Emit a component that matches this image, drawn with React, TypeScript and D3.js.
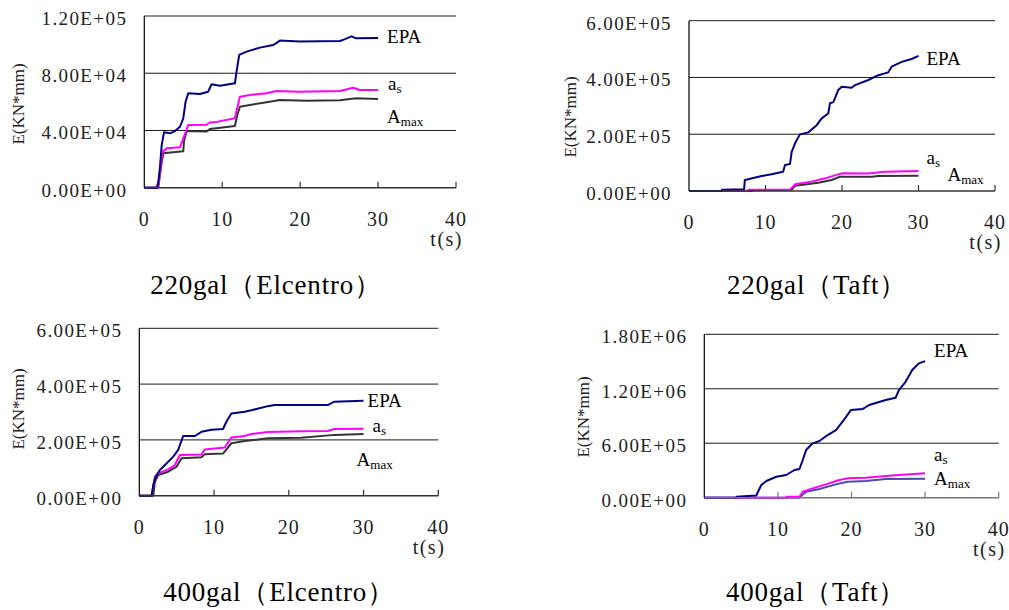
import React from 'react';
import * as d3 from 'd3';

type Pt = [number, number];

// time ticks shared by all four panels
const timeTicks = [0, 10, 20, 30, 40];

// y tick labels
const ticks220El = ['0.00E+00', '4.00E+04', '8.00E+04', '1.20E+05'];
const ticks220Taft = ['0.00E+00', '2.00E+05', '4.00E+05', '6.00E+05'];
const ticks400El = ['0.00E+00', '2.00E+05', '4.00E+05', '6.00E+05'];
const ticks400Taft = ['0.00E+00', '6.00E+05', '1.20E+06', '1.80E+06'];

const titles = ['220gal（Elcentro）', '220gal（Taft）', '400gal（Elcentro）', '400gal（Taft）'];

// 220gal Elcentro
const epa220El: Pt[] = [
  [0, 0], [1.6, 0], [1.8, 4200], [2.0, 13600], [2.23, 29800], [2.53, 38700], [3.3, 38000],
  [3.94, 39600], [4.58, 42600], [5.0, 48500], [5.3, 60100], [5.64, 66000], [7.14, 65500],
  [8.2, 67100], [8.64, 72300], [9.7, 71300], [11.63, 73000], [11.84, 81100], [12.18, 92800],
  [13.13, 95100], [14.83, 97900], [16.54, 99700], [17.4, 102800], [19.96, 102100],
  [25.1, 102500], [25.6, 103500], [26.6, 105800], [27.2, 104400], [30, 104600],
];
const as220El: Pt[] = [
  [0, 0], [1.75, 0], [2.01, 10000], [2.35, 25200], [2.87, 27500], [4.58, 28300], [5.0, 34500],
  [5.64, 43800], [7.99, 44000], [8.42, 45600], [9.28, 46000], [11.63, 48500], [11.84, 53900],
  [12.27, 63600], [13.55, 64800], [15.69, 66000], [16.97, 67600], [19.96, 67100],
  [25.1, 67600], [26.8, 69900], [27.66, 68300], [30, 68300],
];
const amax220El: Pt[] = [
  [0, 0], [1.8, 0], [2.1, 13000], [2.44, 24100], [5.0, 25500], [5.09, 32200], [5.43, 39600],
  [7.99, 39200], [8.42, 41000], [11.63, 43100], [11.93, 50800], [12.27, 56600], [13.55, 57800],
  [15.69, 59700], [17.4, 61300], [20.82, 60700], [25.1, 61100], [27.2, 62500], [30, 62000],
];

// 220gal Taft
const epa220Taft: Pt[] = [
  [0, 0], [4.27, 0], [4.3, 4000], [7.2, 6000], [7.3, 38700], [9.5, 52800], [10.8, 58700],
  [12.3, 68000], [12.55, 91500], [13.2, 95000], [13.42, 138000], [13.86, 168000],
  [14.5, 199500], [15.6, 206600], [16.69, 232000], [17.34, 256000], [18.2, 273000],
  [18.43, 309000], [18.87, 313000], [19.52, 356000], [19.96, 367000], [21.26, 364000],
  [21.7, 373000], [23.44, 391000], [24.75, 408000], [26.05, 418000], [26.49, 438000],
  [27.8, 455000], [29.1, 465000], [30, 476000],
];
const as220Taft: Pt[] = [
  [0, 0], [7.7, 0], [7.8, 4000], [13.2, 5000], [13.86, 23500], [16.04, 33000], [17.78, 44600],
  [19.5, 58700], [19.96, 62200], [23.44, 62000], [25.6, 68000], [30, 70400],
];
const amax220Taft: Pt[] = [
  [0, 0], [8.2, 0], [8.3, 3000], [13.4, 4000], [13.86, 18800], [16.9, 29300], [18.65, 38700],
  [19.74, 50400], [23.9, 50400], [24.75, 52800], [30, 54000],
];

// 400gal Elcentro
const epa400El: Pt[] = [
  [0, 0], [1.65, 0], [1.87, 38000], [2.18, 68000], [2.76, 92000], [3.43, 110000],
  [4.54, 140000], [5.2, 164000], [5.87, 214000], [7.43, 214000], [8.32, 229000],
  [9.65, 236000], [11.2, 239000], [11.65, 265000], [12.31, 295000], [14.09, 301000],
  [14.98, 306000], [17.2, 321000], [18.09, 325000], [25.2, 325000], [26.09, 337000],
  [30, 340000],
];
const as400El: Pt[] = [
  [0, 0], [1.65, 0], [2.09, 68000], [2.54, 80000], [3.87, 94600], [4.76, 110000],
  [5.43, 146000], [8.32, 148000], [8.76, 166000], [11.43, 173000], [12.32, 209000],
  [14.09, 214000], [14.98, 221000], [17.2, 228000], [21.65, 231000], [25.2, 232000],
  [26.09, 239000], [30, 240000],
];
const amax400El: Pt[] = [
  [0, 0], [1.87, 0], [2.09, 50000], [2.54, 74000], [3.87, 86000], [4.98, 104000],
  [5.65, 134000], [8.32, 138000], [8.76, 149000], [11.2, 151000], [12.32, 188000],
  [14.09, 196000], [17.2, 206000], [21.65, 208000], [26.09, 218000], [30, 221000],
];

// 400gal Taft
const epa400Taft: Pt[] = [
  [0, 0], [4.37, 0], [4.4, 11000], [5.95, 20000], [7.08, 25000], [7.3, 66000], [7.75, 140000],
  [8.43, 184000], [9.78, 231000], [11.13, 250000], [12.26, 305000], [12.93, 316000],
  [13.38, 415000], [13.83, 525000], [14.73, 599000], [15.64, 624000], [16.76, 690000],
  [17.89, 745000], [18.79, 837000], [19.91, 965000], [21.49, 976000], [22.4, 1021000],
  [24.65, 1076000], [25.99, 1101000], [26.44, 1186000], [27.35, 1277000], [28.25, 1406000],
  [29.15, 1480000], [30, 1505000],
];
const as400Taft: Pt[] = [
  [0, 0], [11.13, 0], [11.2, 11000], [12.93, 11000], [13.38, 66000], [14.73, 103000],
  [16.54, 147000], [18.34, 195000], [19.47, 213000], [21.94, 220000], [24.65, 239000],
  [26.44, 250000], [30, 268000],
];
const amax400Taft: Pt[] = [
  [0, 0], [12.93, 0], [13.0, 8000], [13.83, 66000], [15.64, 96000], [17.89, 147000],
  [19.47, 176000], [21.94, 184000], [24.65, 206000], [30, 208000],
];

const SERIF = '"Liberation Serif", "Times New Roman", serif';

interface PanelCfg {
  box: { left: number; top: number; right: number; bottom: number };
  yMax: number;
  yLabels: string[];
  series: { data: Pt[]; color: string }[];
  legend: { dx: number; dy: number }[]; // EPA, as, Amax, relative to line end
  title: string;
  titlePos: [number, number];
  yTitlePos: [number, number];
  axisColor: string;
}

const panels: PanelCfg[] = [
  {
    box: { left: 144.3, top: 16, right: 456, bottom: 187.7 },
    yMax: 120000, yLabels: ticks220El,
    series: [
      { data: epa220El, color: '#000080' },
      { data: as220El, color: '#ff00ff' },
      { data: amax220El, color: '#333333' },
    ],
    legend: [{ dx: 9, dy: 5 }, { dx: 10, dy: 0 }, { dx: 9, dy: 24 }],
    title: titles[0], titlePos: [266, 294], yTitlePos: [18, 104], axisColor: '#333',
  },
  {
    box: { left: 689, top: 20.7, right: 995, bottom: 191 },
    yMax: 600000, yLabels: ticks220Taft,
    series: [
      { data: epa220Taft, color: '#000080' },
      { data: as220Taft, color: '#ff00ff' },
      { data: amax220Taft, color: '#333333' },
    ],
    legend: [{ dx: 8, dy: 9 }, { dx: 8, dy: -7 }, { dx: 29, dy: 5 }],
    title: titles[1], titlePos: [817, 294], yTitlePos: [570, 117], axisColor: '#333',
  },
  {
    box: { left: 139.3, top: 328.3, right: 438.3, bottom: 495.7 },
    yMax: 600000, yLabels: ticks400El,
    series: [
      { data: epa400El, color: '#000080' },
      { data: as400El, color: '#ff00ff' },
      { data: amax400El, color: '#333333' },
    ],
    legend: [{ dx: 4, dy: 6 }, { dx: 9, dy: 3 }, { dx: -7, dy: 32 }],
    title: titles[2], titlePos: [279, 601], yTitlePos: [18, 409], axisColor: '#333',
  },
  {
    box: { left: 704.3, top: 334.3, right: 998.7, bottom: 497.7 },
    yMax: 1800000, yLabels: ticks400Taft,
    series: [
      { data: epa400Taft, color: '#000080' },
      { data: as400Taft, color: '#ff00ff' },
      { data: amax400Taft, color: '#4b4ba8' },
    ],
    legend: [{ dx: 9, dy: -4 }, { dx: 9, dy: -12 }, { dx: 9, dy: 6 }],
    title: titles[3], titlePos: [816, 601], yTitlePos: [583, 417], axisColor: '#777',
  },
];

const Legend = ({ i, x, y }: { i: number; x: number; y: number }) => {
  if (i === 0)
    return <text x={x} y={y} fontFamily={SERIF} fontSize={19}>EPA</text>;
  if (i === 1)
    return (
      <text x={x} y={y} fontFamily={SERIF} fontSize={19}>
        a<tspan fontSize={13} dy={3}>s</tspan>
      </text>
    );
  return (
    <text x={x} y={y} fontFamily={SERIF} fontSize={19}>
      A<tspan fontSize={13} dy={3}>max</tspan>
    </text>
  );
};

const Panel = ({ cfg }: { cfg: PanelCfg }) => {
  const { box } = cfg;
  const x = d3.scaleLinear().domain([0, 40]).range([box.left, box.right]);
  const y = d3.scaleLinear().domain([0, cfg.yMax]).range([box.bottom, box.top]);
  const yVals = cfg.yLabels.map((_, i) => (cfg.yMax / (cfg.yLabels.length - 1)) * i);
  const line = d3.line<Pt>().x(d => x(d[0])).y(d => y(d[1]));

  return (
    <g>
      {/* gridlines */}
      {yVals.slice(1).map(v => (
        <line key={v} x1={box.left} x2={box.right} y1={y(v)} y2={y(v)} stroke="#1a1a1a" strokeWidth={1} />
      ))}
      {/* y tick labels */}
      {yVals.map((v, i) => (
        <text key={v} x={box.left - 17} y={y(v) + 9} textAnchor="end" fontFamily={SERIF}
          fontSize={19} letterSpacing={1.4} fill="#222">
          {cfg.yLabels[i]}
        </text>
      ))}
      {/* series */}
      {cfg.series.slice().reverse().map((s, i) => (
        <path key={i} d={line(s.data) ?? ''} fill="none" stroke={s.color} strokeWidth={2}
          strokeLinejoin="round" />
      ))}
      {/* axes */}
      <line x1={box.left} x2={box.left} y1={box.top} y2={box.bottom} stroke="#000" strokeWidth={1.2} />
      <line x1={box.left} x2={box.right} y1={box.bottom} y2={box.bottom} stroke={cfg.axisColor} strokeWidth={1.6} />
      {timeTicks.slice(1).map(t => (
        <line key={t} x1={x(t)} x2={x(t)} y1={box.bottom} y2={box.bottom - 6} stroke={cfg.axisColor} strokeWidth={1.2} />
      ))}
      {timeTicks.map(t => (
        <text key={t} x={x(t)} y={box.bottom + 38} textAnchor="middle" fontFamily={SERIF}
          fontSize={20} letterSpacing={1} fill="#222">
          {t}
        </text>
      ))}
      <text x={box.right + 7} y={box.bottom + 58} textAnchor="end" fontFamily={SERIF}
        fontSize={20} letterSpacing={1.5} fill="#222">
        t(s)
      </text>
      {/* legend labels at line ends */}
      {cfg.series.map((s, i) => {
        const last = s.data[s.data.length - 1];
        return <Legend key={i} i={i} x={x(last[0]) + cfg.legend[i].dx} y={y(last[1]) + cfg.legend[i].dy} />;
      })}
      {/* y title */}
      <text transform={`translate(${cfg.yTitlePos[0]},${cfg.yTitlePos[1]}) rotate(-90)`}
        textAnchor="middle" dy="0.35em" fontFamily={SERIF} fontSize={17} fill="#222">
        E(KN*mm)
      </text>
      {/* title */}
      <text x={cfg.titlePos[0]} y={cfg.titlePos[1]} textAnchor="middle" fontFamily={SERIF}
        fontSize={27} letterSpacing={0.8} fill="#000">
        {cfg.title}
      </text>
    </g>
  );
};

export default function App() {
  return (
    <svg width={1009} height={610} style={{ position: 'absolute', left: 0, top: 0, background: '#fff' }}>
      <rect width={1009} height={610} fill="#fff" />
      {panels.map((p, i) => (
        <Panel key={i} cfg={p} />
      ))}
    </svg>
  );
}
